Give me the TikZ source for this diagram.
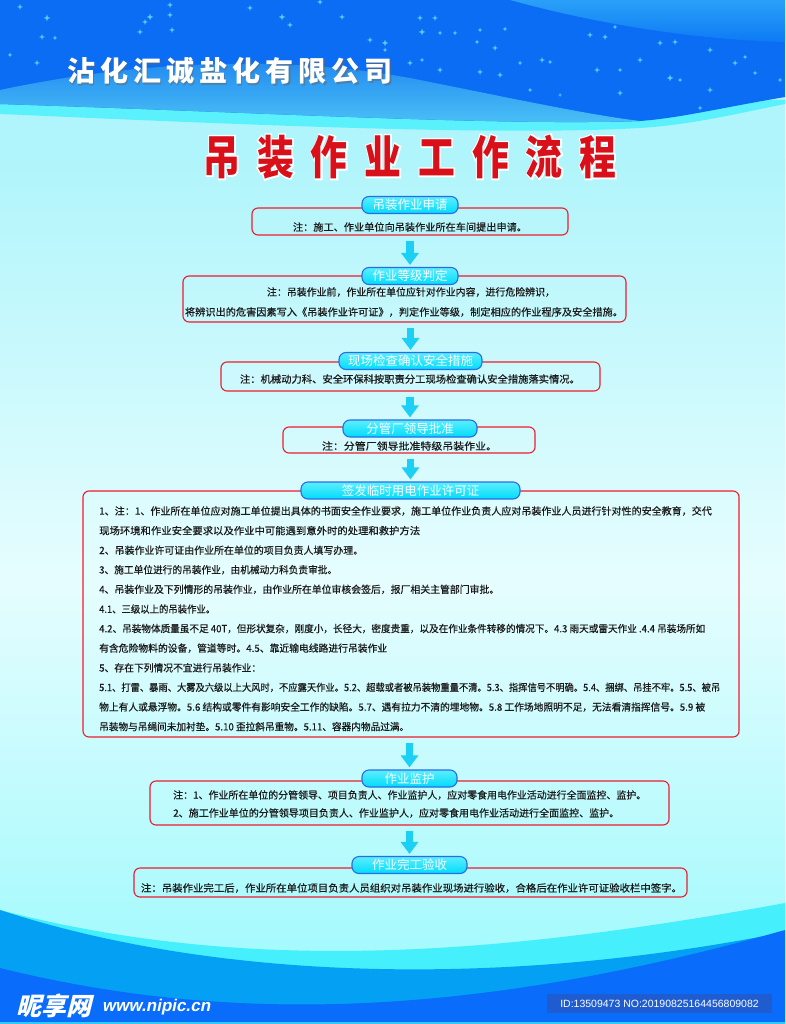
\documentclass[tikz,border=0pt]{standalone}
\usepackage{fontspec}
\usepackage{graphicx}
\usetikzlibrary{arrows.meta}
\newfontfamily\cjk{Noto Sans CJK SC}
\newfontfamily\notefont{Noto Sans CJK SC}[FakeBold=0.5]
\newfontfamily\cjkco{Noto Sans CJK SC}[LetterSpace=18]
\newfontfamily\cjkti{Noto Sans CJK SC}[LetterSpace=46]
\newfontfamily\cjktiol{Noto Sans CJK SC}[LetterSpace=46, FakeBold=7]
\newfontfamily\wmcjk{Noto Sans CJK SC}[FakeSlant=0.25]
\newfontfamily\wmlat{Liberation Sans}[FakeSlant=0.2]
\newfontfamily\idfont{Liberation Sans}
\newcommand\fitw[2]{\resizebox{#1pt}{\height}{#2}}
\newcommand\narrowtitle[1]{\scalebox{0.8}[1]{#1}}
\definecolor{topblue}{HTML}{0B6CF4}
\definecolor{bgtop}{HTML}{B0F5FB}
\definecolor{bgmid}{HTML}{E6FDFE}
\definecolor{bgbot}{HTML}{98F9FD}
\definecolor{bandcyan}{HTML}{45F0FC}
\definecolor{botmid}{HTML}{04A0F4}
\definecolor{botdark}{HTML}{0A6CFA}
\definecolor{botline}{HTML}{30C8F8}
\definecolor{swtop}{HTML}{1E86F0}
\definecolor{swbot}{HTML}{4CC2F6}
\definecolor{trtop}{HTML}{2AA0F8}
\definecolor{trbot}{HTML}{0D7AF4}
\definecolor{boxred}{HTML}{EE1C2E}
\definecolor{pilltop}{HTML}{5CEEFF}
\definecolor{pillbot}{HTML}{00DCFA}
\definecolor{pillline}{HTML}{2A6CE6}
\definecolor{arrowcyan}{HTML}{1CCFF4}
\definecolor{txt}{HTML}{1A1A1A}
\definecolor{starcol}{HTML}{5EC8F8}
\definecolor{titlered}{HTML}{D90F1A}
\definecolor{idbg}{HTML}{1F5CD0}
\tikzset{
  boxframe/.style={draw=boxred, line width=1.1pt, rounded corners=6pt, inner sep=0pt},
  pill/.style={draw=pillline, line width=1.1pt, rounded corners=7pt, top color=pilltop, bottom color=pillbot,
    text=white, minimum height=17pt, inner sep=0pt, font=\cjk\fontsize{12.5}{12.5}\selectfont},
  note/.style={text=txt, inner sep=0pt, font=\notefont\fontsize{10}{10}\selectfont},
  flow/.style={draw=arrowcyan, line width=7.5pt, -{Triangle[width=17pt,length=12pt]}, shorten <=5pt, shorten >=2pt}
}
\begin{document}
\begin{tikzpicture}[x=1pt,y=-1pt]
\useasboundingbox (0,0) rectangle (785,1024);
% background
\fill[bgtop] (0,0) rectangle (785,160);
\shade[top color=bgtop, bottom color=bgmid] (0,160) rectangle (785,580);
\shade[top color=bgmid, bottom color=bgbot] (0,580) rectangle (785,1024);
% top waves
\fill[bandcyan!80!bgtop] (0,100) -- (785,100) -- (785,104) .. controls (740,113) and (690,125) .. (640,128) .. controls (500,136) and (250,125) .. (0,114) -- cycle;
\fill[topblue] (0,0) -- (785,0) -- (785,97) .. controls (720,108) and (680,118) .. (640,121) .. controls (500,126) and (250,112) .. (0,104) -- cycle;
\shade[top color=swtop, bottom color=swbot] (0,90) .. controls (150,58) and (300,56) .. (420,80) .. controls (520,100) and (590,115) .. (640,121) .. controls (500,126) and (250,112) .. (0,104) -- cycle;
\shade[top color=trtop, bottom color=trbot] (510,0) .. controls (600,25) and (700,40) .. (785,42) -- (785,0) -- cycle;
\foreach \sx/\sy/\sr in {20/7/3, 47/18/3.5, 42/37/3, 55/38/2.5, 10/55/2.5, 37/63/3, 140/32/3, 150/17/3.5, 145/22/3, 170/5/3, 170/15/3, 172/30/3, 250/8/3, 282/17/3.5, 290/25/3, 320/2/3, 342/17/3, 370/40/3, 385/43/3.5, 385/50/2.5, 420/18/3, 435/18/3, 422/32/3.5, 440/33/2.5, 455/33/2.5, 480/30/2.5, 505/29/2.5, 477/42/2.5, 495/48/3, 410/63/3, 422/60/2.5, 440/70/3, 480/72/3, 500/75/3, 520/63/2.5, 542/60/3, 550/62/2.5, 590/35/3, 605/37/3, 615/27/2.5, 640/60/3, 660/43/3, 675/42/3, 670/78/3.5, 680/80/2.5, 710/50/3, 735/63/3, 745/57/2.5, 710/90/3, 755/73/2.5, 780/80/2.5, 620/93/3, 597/70/3, 620/70/2.5, 530/90/2.5, 560/95/2, 700/108/2.5}
  \fill[starcol] (\sx,\sy) +(0,-\sr) -- +(0.25*\sr,-0.25*\sr) -- +(\sr,0) -- +(0.25*\sr,0.25*\sr) -- +(0,\sr) -- +(-0.25*\sr,0.25*\sr) -- +(-\sr,0) -- +(-0.25*\sr,-0.25*\sr) -- cycle;
% bottom waves
\fill[bandcyan] (0,910) .. controls (250,975) and (500,955) .. (785,903) -- (785,1024) -- (0,1024) -- cycle;
\fill[botmid] (0,910) .. controls (230,985) and (520,985) .. (785,932) -- (785,1024) -- (0,1024) -- cycle;
\fill[botdark] (0,968) .. controls (250,1030) and (500,1010) .. (785,930) -- (785,1024) -- (0,1024) -- cycle;
\fill[botline] (0,1021.5) rectangle (785,1024);
% titles
\node[text=black!60, opacity=0.5, font=\cjkco\bfseries\fontsize{28}{28}\selectfont] (coshadow) at (231.5,72.5) {沾化汇诚盐化有限公司};
\node[text=white, font=\cjkco\bfseries\fontsize{28}{28}\selectfont] (company) at (230,71) {沾化汇诚盐化有限公司};
\node[text=white, font=\cjktiol\bfseries\fontsize{46}{46}\selectfont] (toutline) at (410,157) {\narrowtitle{吊装作业工作流程}};
\node[text=titlered, font=\cjkti\bfseries\fontsize{46}{46}\selectfont] (title) at (410,157) {\narrowtitle{吊装作业工作流程}};
% boxes
\node[boxframe, minimum width=316pt, minimum height=27pt] (b1) at (410,221.5) {};
\node[boxframe, minimum width=443pt, minimum height=46pt] (b2) at (404.5,299) {};
\node[boxframe, minimum width=379pt, minimum height=29pt] (b3) at (410.5,376.5) {};
\node[boxframe, minimum width=252pt, minimum height=26pt] (b4) at (409,440) {};
\node[boxframe, minimum width=656pt, minimum height=246pt] (b5) at (411,614) {};
\node[boxframe, minimum width=519pt, minimum height=44pt] (b6) at (409.5,803) {};
\node[boxframe, minimum width=553pt, minimum height=29pt] (b7) at (410.5,882.5) {};
% pills
\node[pill, minimum width=96pt] (p1) at (410,205) {吊装作业申请};
\node[pill, minimum width=96pt] (p2) at (410,276) {作业等级判定};
\node[pill, minimum width=143pt] (p3) at (410.5,361) {现场检查确认安全措施};
\node[pill, minimum width=134pt] (p4) at (410,428.5) {分管厂领导批准};
\node[pill, minimum width=219pt] (p5) at (410.5,490.5) {签发临时用电作业许可证};
\node[pill, minimum width=95pt] (p6) at (409.5,778.5) {作业监护};
\node[pill, minimum width=115pt] (p7) at (409.5,865) {作业完工验收};
% arrows
\draw[flow] (b1.south -| p2.north) -- (p2.north);
\draw[flow] (b2.south -| p3.north) -- (p3.north);
\draw[flow] (b3.south -| p4.north) -- (p4.north);
\draw[flow] (b4.south -| p5.north) -- (p5.north);
\draw[flow] (b5.south -| p6.north) -- (p6.north);
\draw[flow] (b6.south -| p7.north) -- (p7.north);
% notes
\node[note] (n1) at (410,227) {\fitw{234}{注：施工、作业单位向吊装作业所在车间提出申请。}};
\node[note] (n2a) at (411,292) {\fitw{288}{注：吊装作业前，作业所在单位应针对作业内容，进行危险辨识，}};
\node[note] (n2b) at (404,312) {\fitw{438}{将辨识出的危害因素写入《吊装作业许可证》，判定作业等级，制定相应的作业程序及安全措施。}};
\node[note] (n3) at (410,379) {\fitw{340}{注：机械动力科、安全环保科按职责分工现场检查确认安全措施落实情况。}};
\node[note] (n4) at (409.5,446) {\fitw{175}{注：分管厂领导批准特级吊装作业。}};
\node[note, anchor=west] (n5a) at (99,511) {\fitw{612.6}{1、注：1、作业所在单位应对施工单位提出具体的书面安全作业要求，施工单位作业负责人应对吊装作业人员进行针对性的安全教育，交代}};
\node[note, anchor=west] (n5b) at (99,530.6) {\fitw{321}{现场环境和作业安全要求以及作业中可能遇到意外时的处理和救护方法}};
\node[note, anchor=west] (n5c) at (99,550.2) {\fitw{264}{2、吊装作业许可证由作业所在单位的项目负责人填写办理。}};
\node[note, anchor=west] (n5d) at (99,569.8) {\fitw{238}{3、施工单位进行的吊装作业，由机械动力科负责审批。}};
\node[note, anchor=west] (n5e) at (99,589.4) {\fitw{400}{4、吊装作业及下列情形的吊装作业，由作业所在单位审核会签后，报厂相关主管部门审批。}};
\node[note, anchor=west] (n5f) at (99,609) {\fitw{116}{4.1、三级以上的吊装作业。}};
\node[note, anchor=west] (n5g) at (99,628.6) {\fitw{606}{4.2、吊装物体质量虽不足 40T，但形状复杂，刚度小，长径大，密度贵重，以及在作业条件转移的情况下。4.3 雨天或雷天作业 .4.4 吊装场所如}};
\node[note, anchor=west] (n5h) at (99,648.2) {\fitw{288}{有含危险物料的设备，管道等时。4.5、靠近输电线路进行吊装作业}};
\node[note, anchor=west] (n5i) at (99,667.8) {\fitw{162}{5、存在下列情况不宜进行吊装作业：}};
\node[note, anchor=west] (n5j) at (99,687.4) {\fitw{621}{5.1、打雷、暴雨、大雾及六级以上大风时，不应露天作业。5.2、超载或者被吊装物重量不清。5.3、指挥信号不明确。5.4、捆绑、吊挂不牢。5.5、被吊}};
\node[note, anchor=west] (n5k) at (99,707) {\fitw{606}{物上有人或悬浮物。5.6 结构或零件有影响安全工作的缺陷。5.7、遇有拉力不清的埋地物。5.8 工作场地照明不足，无法看清指挥信号。5.9 被}};
\node[note, anchor=west] (n5l) at (99,726.6) {\fitw{310}{吊装物与吊绳间未加衬垫。5.10 歪拉斜吊重物。5.11、容器内物品过满。}};
\node[note, anchor=west] (n6a) at (173,795) {\fitw{473}{注：1、作业所在单位的分管领导、项目负责人、作业监护人，应对零食用电作业活动进行全面监控、监护。}};
\node[note, anchor=west] (n6b) at (173,813) {\fitw{446}{2、施工作业单位的分管领导项目负责人、作业监护人，应对零食用电作业活动进行全面监控、监护。}};
\node[note] (n7) at (411.5,888) {\fitw{541}{注：吊装作业完工后，作业所在单位项目负责人员组织对吊装作业现场进行验收，合格后在作业许可证验收栏中签字。}};
% watermark
\node[text=white, anchor=west, inner sep=0pt, font=\wmcjk\bfseries\fontsize{25}{25}\selectfont] (wm1) at (16,1006) {昵享网};
\node[text=white, anchor=west, inner sep=0pt, font=\wmlat\bfseries\fontsize{17}{17}\selectfont] (wm2) at (102,1007) {www.nipic.cn};
\node[fill=idbg, text=white, minimum width=225pt, minimum height=19pt, inner sep=0pt, font=\idfont\fontsize{10.5}{10.5}\selectfont] (wmid) at (659.5,1003.5) {ID:13509473 NO:20190825164456809082};
\end{tikzpicture}
\end{document}
